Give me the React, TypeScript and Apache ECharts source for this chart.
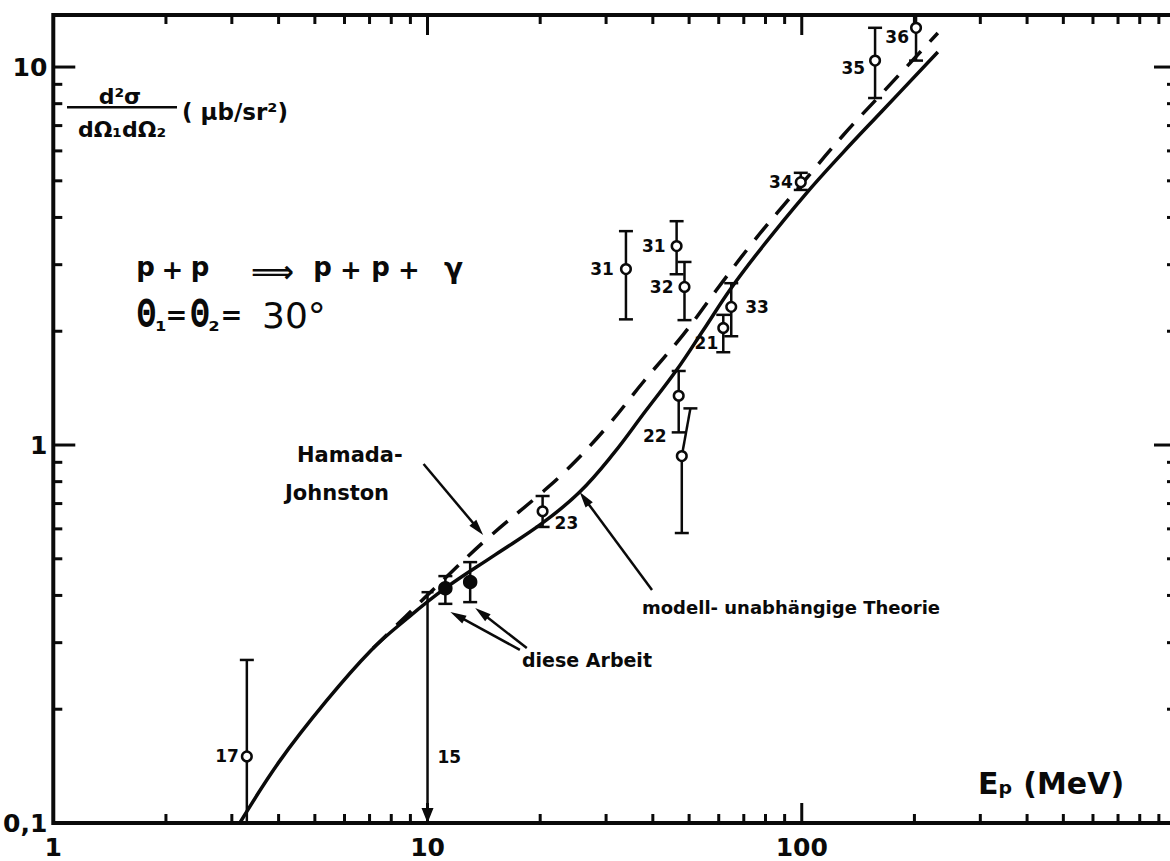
import React, { useEffect, useRef } from "react";
import * as echarts from "echarts";

// ---------- axes ----------
const X_MIN = 1;
const X_MAX = 1000;
const Y_MIN = 0.1;
const Y_MAX = 13.73;

const xMajorTicks = [10, 100];
const xMinorTicks = [2, 3, 4, 5, 6, 7, 8, 9, 20, 30, 40, 50, 60, 70, 80, 90, 200, 300, 400, 500, 600, 700, 800, 900];
const yMajorTicks = [1, 10];
const yMinorTicks = [0.2, 0.3, 0.4, 0.5, 0.6, 0.7, 0.8, 0.9, 2, 3, 4, 5, 6, 7, 8, 9];
const xTickExponents = [0, 1, 2];
const xTickLabels = ["1", "10", "100"];
const yTickExponents = [-1, 0, 1];
const yTickLabels = ["0,1", "1", "10"];

// ---------- curves ----------
// modell-unabhängige Theorie (solid)
const solidE = [3.15, 4.03, 5.36, 7.06, 8.74, 11.16, 15.15, 20.3, 25.5, 31.5, 37.9, 46.3, 54.6, 64.8, 78.8, 101.9, 128.5, 164, 231];
const solidXS = [0.1, 0.146, 0.21, 0.286, 0.345, 0.418, 0.512, 0.622, 0.751, 0.953, 1.215, 1.579, 2.015, 2.603, 3.361, 4.585, 5.92, 7.65, 10.96];
// Hamada-Johnston (dashed)
const dashedE = [7.15, 8.74, 11.16, 14.51, 19.7, 23.23, 29.66, 37.9, 48.35, 59.15, 74.13, 99.4, 128.5, 164, 231];
const dashedXS = [0.29, 0.352, 0.445, 0.5675, 0.7328, 0.848, 1.096, 1.477, 1.966, 2.57, 3.444, 4.873, 6.571, 8.53, 12.3];

// ---------- measured points (open circles) ----------
const pointLabels = ["17", "31", "31", "32", "33", "21", "22", "", "23", "34", "35", "36"];
const pointE = [3.29, 33.9, 46.3, 48.6, 64.8, 61.7, 46.9, 47.8, 20.3, 99.4, 157, 202];
const pointXS = [0.15, 2.92, 3.36, 2.62, 2.32, 2.04, 1.35, 0.935, 0.668, 4.96, 10.4, 12.7];
const pointLow = [0.05, 2.15, 2.83, 2.14, 1.94, 1.76, 1.08, 0.585, 0.607, 4.73, 8.28, 10.4];
const pointHigh = [0.27, 3.68, 3.91, 3.05, 2.68, 2.21, 1.57, 1.25, 0.733, 5.25, 12.7, 15.5];
const pointHighE = [3.29, 33.9, 46.3, 48.6, 64.8, 61.7, 46.9, 50.4, 20.3, 99.4, 157, 202];

// ---------- diese Arbeit (filled circles) ----------
const thisWorkE = [11.16, 13.0];
const thisWorkXS = [0.418, 0.434];
const thisWorkLow = [0.38, 0.384];
const thisWorkHigh = [0.45, 0.49];

// ---------- upper limit (15) ----------
const limitLabels = ["15"];
const limitE = [10];
const limitXS = [0.408];

// ---------- annotation arrows [fromE, fromXS, toE, toXS] ----------
const arrowFromE = [9.76, 39.8, 17.65, 18.42];
const arrowFromXS = [0.891, 0.4135, 0.287, 0.2904];
const arrowToE = [14.08, 25.5, 11.51, 13.41];
const arrowToXS = [0.578, 0.751, 0.3617, 0.3705];

// ---------- layout of point labels (px offsets, not data) ----------
const pointLabelLayout: [number, number, string][] = [
  [-8, 0, "right"],
  [-12, 0, "right"],
  [-11, 0, "right"],
  [-11, 0, "right"],
  [14, 0, "left"],
  [-5, 15, "right"],
  [-12, 40, "right"],
  [0, 0, "left"],
  [12, 12, "left"],
  [-8, 0, "right"],
  [-10, 7, "right"],
  [-7, 9, "right"],
];

const FONT = '"DejaVu Sans", "Liberation Sans", sans-serif';
const INK = "#0a0a0a";

export default function App() {
  const ref = useRef<HTMLDivElement>(null);

  useEffect(() => {
    if (!ref.current) return;
    const chart = echarts.init(ref.current, undefined, { renderer: "svg" });

    const tickData = (vals: number[], major: number, axis: "x" | "y") =>
      vals.map((v) => (axis === "x" ? [v, Y_MIN, major] : [X_MIN, v, major]));

    const curveSeries = (name: string, xs: number[], ys: number[], dash: number[] | null) => ({
      type: "custom",
      name,
      silent: true,
      z: 4,
      data: xs.map((x, i) => [x, ys[i]]),
      renderItem: (params: any, api: any) => {
        if (params.dataIndex !== 0) return null;
        const pts = xs.map((x, i) => api.coord([x, ys[i]]));
        return {
          type: "polyline",
          shape: { points: pts, smooth: 0.4 },
          style: { stroke: INK, lineWidth: 3.5, fill: null, lineDash: dash, lineCap: "butt" },
        };
      },
    });

    const xTickSeries = {
      type: "custom",
      silent: true,
      z: 5,
      data: [...tickData(xMinorTicks, 0, "x"), ...tickData(xMajorTicks, 1, "x")],
      renderItem: (_p: any, api: any) => {
        const v = api.value(0);
        const len = api.value(2) === 1 ? 20 : 9;
        const pb = api.coord([v, Y_MIN]);
        const pt = api.coord([v, Y_MAX]);
        const st = { stroke: INK, lineWidth: 3 };
        return {
          type: "group",
          children: [
            { type: "line", shape: { x1: pb[0], y1: pb[1], x2: pb[0], y2: pb[1] - len }, style: st },
            { type: "line", shape: { x1: pt[0], y1: pt[1], x2: pt[0], y2: pt[1] + len }, style: st },
          ],
        };
      },
    };

    const yTickSeries = {
      type: "custom",
      silent: true,
      z: 5,
      data: [...tickData(yMinorTicks, 0, "y"), ...tickData(yMajorTicks, 1, "y")],
      renderItem: (_p: any, api: any) => {
        const v = api.value(1);
        const len = api.value(2) === 1 ? 22 : 9;
        const pl = api.coord([X_MIN, v]);
        const pr = api.coord([X_MAX, v]);
        const st = { stroke: INK, lineWidth: 3 };
        return {
          type: "group",
          children: [
            { type: "line", shape: { x1: pl[0], y1: pl[1], x2: pl[0] + len, y2: pl[1] }, style: st },
            { type: "line", shape: { x1: pr[0], y1: pr[1], x2: pr[0] - len, y2: pr[1] }, style: st },
          ],
        };
      },
    };

    const errorBarItem = (filled: boolean) => (params: any, api: any) => {
      const idx = params.dataIndex;
      const e = api.value(0);
      const v = api.value(1);
      const lo = api.value(2);
      const hi = api.value(3);
      const eTop = api.value(4);
      const p = api.coord([e, v]);
      const loC = Math.max(lo, Y_MIN);
      const hiC = Math.min(hi, Y_MAX);
      const pl = api.coord([e, loC]);
      const ph = api.coord([eTop, hiC]);
      const st = { stroke: INK, lineWidth: 2.5 };
      const cap = 7;
      const children: any[] = [
        { type: "line", shape: { x1: p[0], y1: p[1], x2: pl[0], y2: pl[1] }, style: st },
        { type: "line", shape: { x1: p[0], y1: p[1], x2: ph[0], y2: ph[1] }, style: st },
      ];
      if (lo >= Y_MIN)
        children.push({ type: "line", shape: { x1: pl[0] - cap, y1: pl[1], x2: pl[0] + cap, y2: pl[1] }, style: st });
      if (hi <= Y_MAX)
        children.push({ type: "line", shape: { x1: ph[0] - cap, y1: ph[1], x2: ph[0] + cap, y2: ph[1] }, style: st });
      children.push({
        type: "circle",
        shape: { cx: p[0], cy: p[1], r: filled ? 6 : 4.8 },
        style: { fill: filled ? INK : "#fff", stroke: INK, lineWidth: 2.5 },
      });
      if (!filled) {
        const text = pointLabels[idx];
        if (text) {
          const lay = pointLabelLayout[idx];
          children.push({
            type: "text",
            x: p[0] + lay[0],
            y: p[1] + lay[1],
            style: {
              text,
              fill: INK,
              font: `bold 17px ${FONT}`,
              align: lay[2],
              textAlign: lay[2],
              verticalAlign: "middle",
              textVerticalAlign: "middle",
            },
          });
        }
      }
      return { type: "group", children };
    };

    const pointSeries = {
      type: "custom",
      name: "Messpunkte",
      z: 10,
      data: pointE.map((e, i) => [e, pointXS[i], pointLow[i], pointHigh[i], pointHighE[i]]),
      renderItem: errorBarItem(false),
    };

    const thisWorkSeries = {
      type: "custom",
      name: "diese Arbeit",
      z: 10,
      data: thisWorkE.map((e, i) => [e, thisWorkXS[i], thisWorkLow[i], thisWorkHigh[i], e]),
      renderItem: errorBarItem(true),
    };

    const limitSeries = {
      type: "custom",
      name: "obere Grenze",
      z: 10,
      data: limitE.map((e, i) => [e, limitXS[i]]),
      renderItem: (params: any, api: any) => {
        const p = api.coord([api.value(0), api.value(1)]);
        const pb = api.coord([api.value(0), Y_MIN]);
        const st = { stroke: INK, lineWidth: 2.5 };
        return {
          type: "group",
          children: [
            { type: "line", shape: { x1: p[0], y1: p[1], x2: pb[0], y2: pb[1] - 12 }, style: st },
            { type: "line", shape: { x1: p[0] - 6, y1: p[1], x2: p[0] + 6, y2: p[1] }, style: st },
            {
              type: "polygon",
              shape: { points: [[pb[0], pb[1]], [pb[0] - 6, pb[1] - 15], [pb[0] + 6, pb[1] - 15]] },
              style: { fill: INK },
            },
            {
              type: "text",
              x: p[0] + 10,
              y: pb[1] - 66,
              style: {
                text: limitLabels[params.dataIndex],
                fill: INK,
                font: `bold 17px ${FONT}`,
                align: "left",
                textAlign: "left",
                verticalAlign: "middle",
                textVerticalAlign: "middle",
              },
            },
          ],
        };
      },
    };

    const arrowSeries = {
      type: "custom",
      silent: true,
      z: 8,
      data: arrowFromE.map((e, i) => [e, arrowFromXS[i], arrowToE[i], arrowToXS[i]]),
      renderItem: (_p: any, api: any) => {
        const a = api.coord([api.value(0), api.value(1)]);
        const b = api.coord([api.value(2), api.value(3)]);
        const dx = b[0] - a[0];
        const dy = b[1] - a[1];
        const d = Math.hypot(dx, dy) || 1;
        const ux = dx / d;
        const uy = dy / d;
        const L = 16;
        const W = 4.5;
        const bx = b[0] - ux * L;
        const by = b[1] - uy * L;
        return {
          type: "group",
          children: [
            { type: "line", shape: { x1: a[0], y1: a[1], x2: bx + ux * 4, y2: by + uy * 4 }, style: { stroke: INK, lineWidth: 2.5 } },
            {
              type: "polygon",
              shape: { points: [[b[0], b[1]], [bx - uy * W, by + ux * W], [bx + uy * W, by - ux * W]] },
              style: { fill: INK },
            },
          ],
        };
      },
    };

    const txt = (text: string, x: number, y: number, size: number, align = "left", weight = "bold", extra: any = {}) => ({
      type: "text",
      x,
      y,
      z: 20,
      ...extra,
      style: {
        text,
        fill: INK,
        font: `${weight} ${size}px ${FONT}`,
        align,
        textAlign: align,
        verticalAlign: "middle",
        textVerticalAlign: "middle",
      },
    });

    chart.setOption({
      animation: false,
      backgroundColor: "#ffffff",
      grid: {
        left: 45,
        top: 15,
        width: 1131,
        height: 808,
        show: true,
        borderColor: INK,
        borderWidth: 4,
        backgroundColor: "transparent",
      },
      xAxis: {
        type: "log",
        logBase: 10,
        min: X_MIN,
        max: X_MAX,
        axisLine: { show: false },
        axisTick: { show: false },
        splitLine: { show: false },
        minorTick: { show: false },
        axisLabel: {
          color: INK,
          fontSize: 25,
          fontWeight: "bold",
          fontFamily: FONT,
          margin: 12,
          formatter: (v: number) => {
            const ex = Math.round(Math.log10(v));
            const i = xTickExponents.indexOf(ex);
            return i >= 0 ? xTickLabels[i] : "";
          },
        },
      },
      yAxis: {
        type: "log",
        logBase: 10,
        min: Y_MIN,
        max: Y_MAX,
        axisLine: { show: false },
        axisTick: { show: false },
        splitLine: { show: false },
        minorTick: { show: false },
        axisLabel: {
          color: INK,
          fontSize: 25,
          fontWeight: "bold",
          fontFamily: FONT,
          margin: 6,
          showMaxLabel: false,
          formatter: (v: number) => {
            const ex = Math.round(Math.log10(v));
            const i = yTickExponents.indexOf(ex);
            return i >= 0 ? yTickLabels[i] : "";
          },
        },
      },
      series: [
        curveSeries("modell-unabhängige Theorie", solidE, solidXS, null),
        curveSeries("Hamada-Johnston", dashedE, dashedXS, [20, 13]),
        xTickSeries,
        yTickSeries,
        arrowSeries,
        limitSeries,
        pointSeries,
        thisWorkSeries,
      ],
      graphic: [
        txt("d²σ", 120, 96, 22, "center"),
        { type: "rect", z: 20, shape: { x: 67, y: 106, width: 110, height: 2.5 }, style: { fill: INK } },
        txt("dΩ₁dΩ₂", 122, 129, 22, "center"),
        txt("( μb/sr²)", 182, 112, 23, "left"),
        // p + p ⟹ p + p + γ
        txt("p", 145.5, 267, 26, "center"),
        txt("+", 172.5, 270, 26, "center"),
        txt("p", 200, 267, 26, "center"),
        txt("⟹", 272.5, 271, 30, "center"),
        txt("p", 322.5, 267, 26, "center"),
        txt("+", 351, 270, 26, "center"),
        txt("p", 380.5, 267, 26, "center"),
        txt("+", 409, 270, 26, "center"),
        txt("γ", 453.5, 268, 28, "center"),
        // Θ₁ = Θ₂ = 30°
        txt("Θ", 146.5, 313, 38, "center", "bold", { scaleX: 0.6 }),
        txt("₁", 161, 322, 26, "center"),
        txt("=", 176.5, 315, 26, "center"),
        txt("Θ", 200, 313, 38, "center", "bold", { scaleX: 0.6 }),
        txt("₂", 214, 322, 26, "center"),
        txt("=", 231.5, 315, 26, "center"),
        txt("30°", 262, 315, 36, "left", "normal"),
        txt("Hamada-", 297, 455, 21, "left"),
        txt("Johnston", 285, 493, 21, "left"),
        txt("modell- unabhängige Theorie", 642, 607, 18, "left"),
        txt("diese Arbeit", 522, 660, 19, "left"),
        txt("Eₚ (MeV)", 978, 783, 30, "left"),
      ],
    });

    return () => chart.dispose();
  }, []);

  return (
    <div style={{ position: "absolute", left: 0, top: 0, width: 1170, height: 861, overflow: "hidden", background: "#fff" }}>
      <div ref={ref} style={{ width: 1180, height: 861 }} />
    </div>
  );
}
